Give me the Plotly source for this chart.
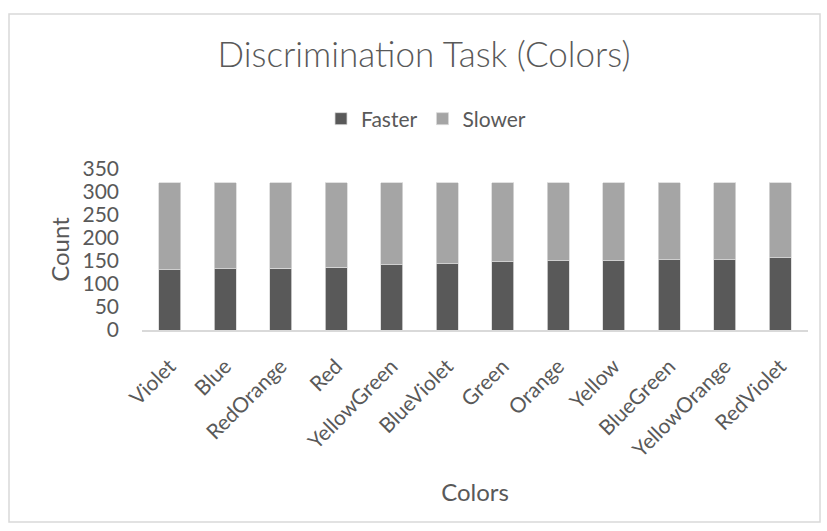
import plotly.graph_objects as go

categories = ["Violet", "Blue", "RedOrange", "Red", "YellowGreen", "BlueViolet",
              "Green", "Orange", "Yellow", "BlueGreen", "YellowOrange", "RedViolet"]
faster = [131, 133, 134, 136, 142, 144, 148, 151, 151, 153, 153, 157]
total = 320
slower = [total - f for f in faster]

FONT = "Lato"
TXT = "#595959"

fig = go.Figure()
fig.add_trace(go.Bar(name="Faster", x=categories, y=faster,
                     marker=dict(color="#595959", line=dict(color="#d9d9d9", width=0.8))))
fig.add_trace(go.Bar(name="Slower", x=categories, y=slower,
                     marker=dict(color="#a5a5a5", line=dict(color="#d9d9d9", width=0.8))))

fig.update_layout(
    barmode="stack",
    bargap=0.6,
    width=827, height=531,
    margin=dict(l=142, r=19, t=169, b=201),
    paper_bgcolor="white", plot_bgcolor="white",
    font=dict(family=FONT, color=TXT, size=21),
    title=dict(text="Discrimination Task (Colors)", x=424/827, xanchor="center",
               y=1 - 55/531, yanchor="middle",
               font=dict(family=FONT, size=35, color=TXT, weight=300)),
    legend=dict(orientation="h", x=(426 - 142) / 666, xanchor="center",
                y=(330 - 119) / 161, yanchor="middle",
                font=dict(family=FONT, size=21, color=TXT),
                itemwidth=30, traceorder="normal"),
    showlegend=True,
)
fig.update_xaxes(
    tickangle=-45, showline=True, linecolor="#d9d9d9", linewidth=1.5,
    showgrid=False, ticks="", ticklabelstandoff=14, tickfont=dict(size=21, color=TXT),
    title=dict(text="Colors", font=dict(size=24, color=TXT), standoff=24),
)
fig.update_yaxes(
    range=[0, 350], dtick=50, showgrid=False, showline=False, zeroline=False,
    ticks="", ticklabelstandoff=22, tickfont=dict(size=21, color=TXT),
    title=dict(text="Count", font=dict(size=24, color=TXT), standoff=6),
)
# chart border
fig.add_shape(type="rect", xref="paper", yref="paper",
              x0=(9 - 142) / 666, x1=(820 - 142) / 666,
              y0=(330 - 522) / 161, y1=(330 - 14) / 161,
              line=dict(color="#d9d9d9", width=1.5), fillcolor="rgba(0,0,0,0)")

fig.write_html("out.html")
